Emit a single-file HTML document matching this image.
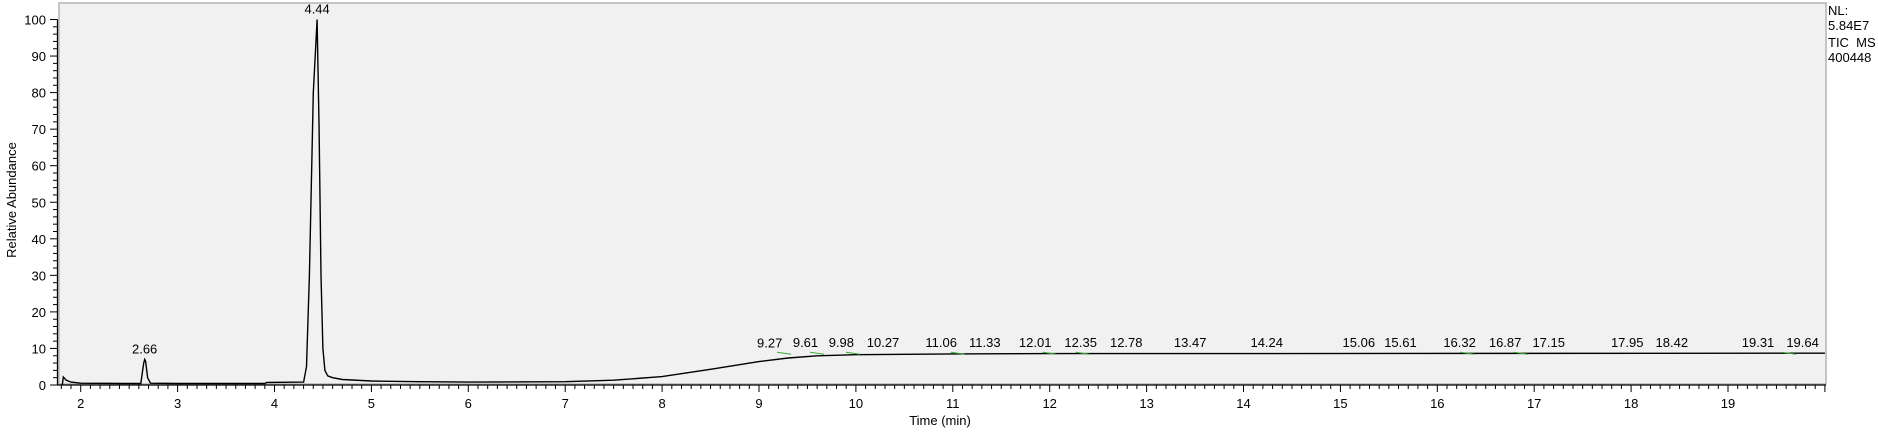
<!DOCTYPE html>
<html><head><meta charset="utf-8"><style>
html,body{margin:0;padding:0;background:#fff;}
svg{display:block;font-family:"Liberation Sans",Arial,sans-serif;}
</style></head><body>
<svg id="chart" width="1878" height="434" viewBox="0 0 1878 434">
<rect x="59" y="3" width="1767" height="381" fill="#f1f1f1" stroke="#b4b4b4" stroke-width="1.5"/>
<g id="axes"></g>
<path id="trace" fill="none" stroke="#000" stroke-width="1.4"/>
<g id="labels"></g>
<text x="16" y="200" font-size="13" text-anchor="middle" transform="rotate(-90 16 200)">Relative Abundance</text>
<text x="940" y="425" font-size="13" text-anchor="middle">Time (min)</text>
<g font-size="13">
<text x="1828" y="15">NL:</text><text x="1828" y="30">5.84E7</text>
<text x="1828" y="47" xml:space="preserve">TIC  MS</text><text x="1828" y="62">400448</text>
</g>
</svg>
<script>
const times=[1.81,1.82,1.85,1.9,2.0,2.5,2.62,2.65,2.66,2.67,2.69,2.72,3.0,3.9,3.92,4.3,4.33,4.36,4.40,4.44,4.46,4.48,4.50,4.52,4.55,4.6,4.7,5.0,5.5,6.0,7.0,7.5,8.0,8.5,9.0,9.3,9.6,10.0,11.0,12.0,13.0,20.0];
const values=[0,2.2,1.3,0.8,0.5,0.4,0.4,6,7,6.5,2,0.5,0.4,0.4,0.7,0.8,5,30,80,100,70,30,10,4,2.5,2,1.5,1.1,0.9,0.8,0.9,1.3,2.3,4.3,6.4,7.4,8.0,8.3,8.5,8.6,8.6,8.7];
const peakLabels=["2.66","4.44","9.27","9.61","9.98","10.27","11.06","11.33","12.01","12.35","12.78","13.47","14.24","15.06","15.61","16.32","16.87","17.15","17.95","18.42","19.31","19.64"];
const labelTimes=[2.66,4.44,9.11,9.48,9.85,10.28,10.88,11.33,11.85,12.32,12.79,13.45,14.24,15.19,15.62,16.23,16.70,17.15,17.96,18.42,19.31,19.77];
const peakHeights=[7,100,8.6,8.7,8.7,8.7,8.7,8.7,8.7,8.7,8.7,8.7,8.7,8.7,8.7,8.7,8.7,8.7,8.7,8.7,8.7,8.7];
const greenMarks=[9.27,9.61,9.98,11.06,12.01,12.35,16.32,16.87,19.64];
const xTicks=[2,3,4,5,6,7,8,9,10,11,12,13,14,15,16,17,18,19];
const yTicks=[0,10,20,30,40,50,60,70,80,90,100];
const NS="http://www.w3.org/2000/svg";
const X=t=>759+(t-9)*96.9;
const Y=v=>385-v*3.655;
const ax=document.getElementById('axes');
function el(tag,attrs,parent){const e=document.createElementNS(NS,tag);for(const k in attrs)e.setAttribute(k,attrs[k]);parent.appendChild(e);return e;}
el('line',{x1:57.5,y1:Y(100),x2:57.5,y2:385,stroke:'#000','stroke-width':1.3},ax);
el('line',{x1:57.5,y1:385,x2:1826,y2:385,stroke:'#000','stroke-width':1.3},ax);
for(let v=0;v<=100;v+=2){const major=v%10===0;el('line',{x1:major?50:53,y1:Y(v),x2:57.5,y2:Y(v),stroke:'#000','stroke-width':1},ax);}
yTicks.forEach(v=>{const t=el('text',{x:46,y:Y(v)+5,'font-size':13,'text-anchor':'end'},ax);t.textContent=v;

});
for(let i=0;i<=182;i++){const t=1.8+i*0.1;if(t>20.01)break;const major=Math.abs(t-Math.round(t))<0.01;el('line',{x1:X(t),y1:385,x2:X(t),y2:major?392:389,stroke:'#000','stroke-width':1},ax);}
xTicks.forEach(v=>{const t=el('text',{x:X(v),y:408,'font-size':13,'text-anchor':'middle'},ax);t.textContent=v;

});
const lb=document.getElementById('labels');
greenMarks.forEach(g=>{const m=el('line',{x1:X(g)-8,y1:Y(8.7)-1,x2:X(g)+6,y2:Y(8.7)+1,stroke:'#3aa83a','stroke-width':1},lb);

});
let d='';times.forEach((t,i)=>{d+=(i?'L':'M')+X(t).toFixed(1)+' '+Y(values[i]).toFixed(1);});
document.getElementById('trace').setAttribute('d',d);
peakLabels.forEach((s,i)=>{const t=el('text',{x:X(labelTimes[i]),y:Y(peakHeights[i])-6,'font-size':13,'text-anchor':'middle'},lb);t.textContent=s;

});
</script>
</body></html>
